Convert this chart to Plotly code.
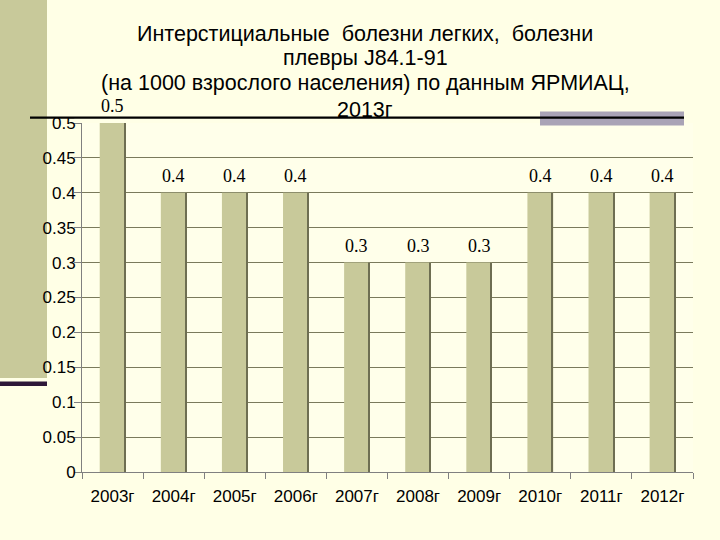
import plotly.graph_objects as go

categories = ["2003г", "2004г", "2005г", "2006г", "2007г", "2008г", "2009г", "2010г", "2011г", "2012г"]
values = [0.5, 0.4, 0.4, 0.4, 0.3, 0.3, 0.3, 0.4, 0.4, 0.4]
y_ticks = [0, 0.05, 0.1, 0.15, 0.2, 0.25, 0.3, 0.35, 0.4, 0.45, 0.5]
y_tick_labels = ["0", "0.05", "0.1", "0.15", "0.2", "0.25", "0.3", "0.35", "0.4", "0.45", "0.5"]
title_lines = [
    "Интерстициальные  болезни легких,  болезни",
    "плевры J84.1-91",
    "(на 1000 взрослого населения) по данным ЯРМИАЦ,",
    "2013г",
]
title_line_y = [34, 58, 83, 110]

W, H = 720, 540
L, R, T, B = 82, 27, 123, 68
PW, PH = W - L - R, H - T - B

def px(x):
    return (x - L) / PW

def py(y):
    return (H - B - y) / PH

BAR_W = 0.42
EDGE_W = 0.018

fig = go.Figure()
fig.add_trace(go.Bar(
    x=categories, y=values, width=BAR_W,
    marker=dict(color="#C8C99A", line=dict(width=0)),
    cliponaxis=False, hoverinfo="skip",
))
# dark right edge of each bar
fig.add_trace(go.Bar(
    x=categories, y=values, width=EDGE_W, offset=BAR_W / 2 - EDGE_W,
    marker=dict(color="#6E6E52", line=dict(width=0)), hoverinfo="skip",
))

shapes = [
    dict(type="rect", xref="paper", yref="paper", x0=px(0), x1=px(47), y0=py(0), y1=py(378),
         fillcolor="#C8C99A", line=dict(width=0), layer="below"),
    dict(type="rect", xref="paper", yref="paper", x0=px(0), x1=px(47), y0=py(381.5), y1=py(386),
         fillcolor="#2E1838", line=dict(width=0), layer="above"),
    dict(type="rect", xref="paper", yref="paper", x0=px(540), x1=px(684), y0=py(111.5), y1=py(125.5),
         fillcolor="#A9A3B6", line=dict(width=0), layer="above"),
    dict(type="line", xref="paper", yref="paper", x0=px(30), x1=px(684), y0=py(117.7), y1=py(117.7),
         line=dict(color="#000000", width=2.2), layer="above"),
]

annotations = [
    dict(text=t, xref="paper", yref="paper", x=px(365), y=py(yy),
         xanchor="center", yanchor="middle", showarrow=False,
         font=dict(family="Liberation Sans", size=21.5, color="#000000"))
    for t, yy in zip(title_lines, title_line_y)
]
annotations += [
    dict(text=str(v), x=c, y=v, xref="x", yref="y", xanchor="center", yanchor="bottom",
         yshift=5, showarrow=False,
         font=dict(family="Liberation Serif", size=18, color="#000000"))
    for c, v in zip(categories, values)
]

fig.update_layout(
    width=W, height=H,
    margin=dict(l=L, r=R, t=T, b=B),
    paper_bgcolor="#FFFFE6",
    plot_bgcolor="#FFFFEA",
    showlegend=False,
    barmode="overlay",
    font=dict(family="Liberation Sans", size=17, color="#000000"),
    shapes=shapes,
    annotations=annotations,
    xaxis=dict(
        type="category", tickson="boundaries", ticks="outside", ticklen=6,
        tickcolor="#808080", showline=True, linecolor="#808080", linewidth=1,
        tickfont=dict(family="Liberation Sans", size=17, color="#000000"),
        ticklabelstandoff=9,
        showgrid=False, fixedrange=True,
    ),
    yaxis=dict(
        range=[0, 0.5], tickvals=y_ticks, ticktext=y_tick_labels,
        ticks="outside", ticklen=7, tickcolor="#808080",
        showline=True, linecolor="#808080", linewidth=1,
        showgrid=True, gridcolor="#7A7A5C", gridwidth=1,
        tickfont=dict(family="Liberation Sans", size=17, color="#000000"),
        ticklabelstandoff=-5,
        zeroline=False, fixedrange=True,
    ),
)

fig.write_html("out.html", config={"displayModeBar": False},
               post_script="document.body.style.margin='0';")
